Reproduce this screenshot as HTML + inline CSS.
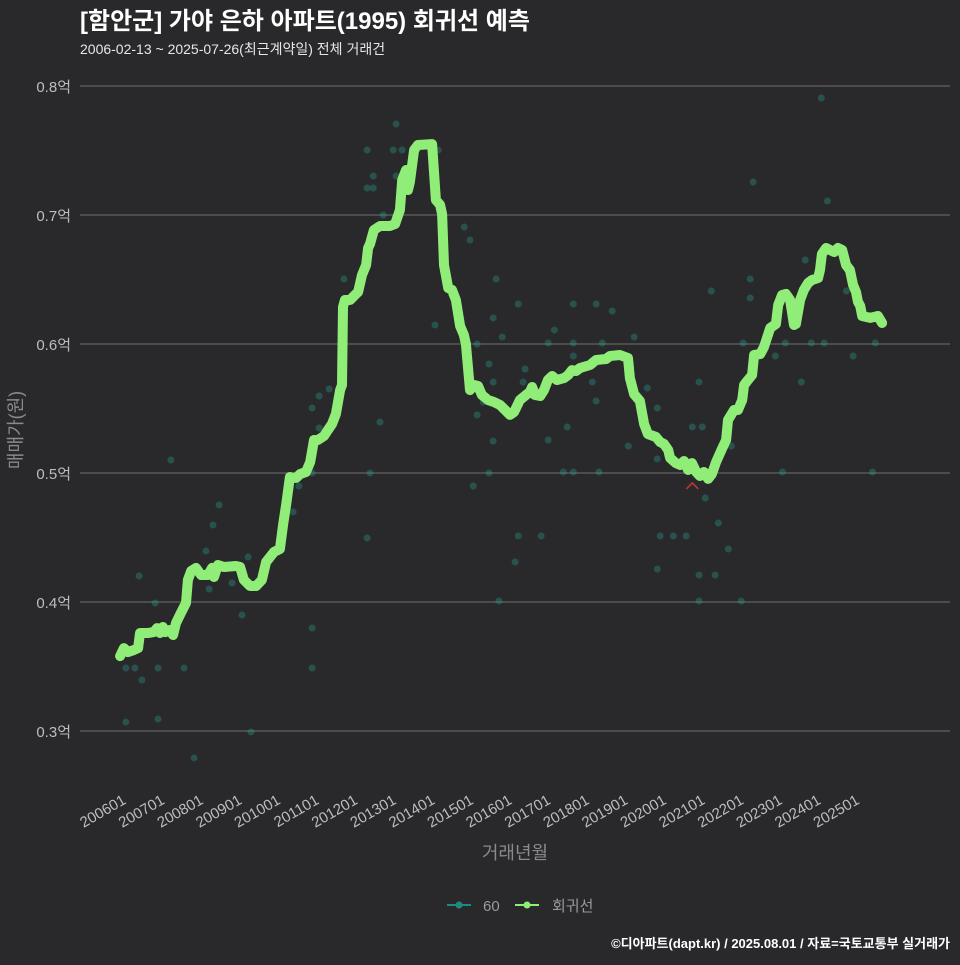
<!DOCTYPE html>
<html><head><meta charset="utf-8"><style>
html,body{margin:0;padding:0;background:#29292b;}
body{width:960px;height:960px;overflow:hidden;font-family:"Liberation Sans","Noto Sans CJK KR",sans-serif;}
svg text{font-family:"Liberation Sans","Noto Sans CJK KR",sans-serif;}
</style></head><body>
<svg id="chart" width="960" height="960" xmlns="http://www.w3.org/2000/svg">
<rect width="960" height="960" fill="#29292b"/>
<text x="80" y="29" fill="#ffffff" font-size="24" font-weight="bold">[함안군] 가야 은하 아파트(1995) 회귀선 예측</text>
<text x="80" y="54" fill="#e6e6e6" font-size="14">2006-02-13 ~ 2025-07-26(최근계약일) 전체 거래건</text>
<g id="grid"></g>
<g id="yticks"></g>
<g id="xticks"></g>
<g id="dots"></g>
<g id="line"></g>
<text transform="translate(22,430) rotate(-90)" text-anchor="middle" fill="#8a8a8a" font-size="18">매매가(원)</text>
<text x="515" y="859" text-anchor="middle" fill="#8a8a8a" font-size="18">거래년월</text>
<g>
<g>
<line x1="447" y1="905" x2="471" y2="905" stroke="#1f8a80" stroke-width="2"/>
<circle cx="459" cy="905" r="3.5" fill="#1f8a80"/>
<text x="483" y="911" fill="#9a9a9a" font-size="15">60</text></g>
<g>
<line x1="515" y1="905" x2="539" y2="905" stroke="#90ee78" stroke-width="2"/>
<circle cx="527" cy="905" r="3.5" fill="#90ee78"/>
<text x="552" y="911" fill="#9a9a9a" font-size="15">회귀선</text></g>
</g>
<text x="950" y="948" text-anchor="end" fill="#ffffff" font-size="13" font-weight="bold">©디아파트(dapt.kr) / 2025.08.01 / 자료=국토교통부 실거래가</text>
</svg>
<script>
const yTicks=[3000,4000,5000,6000,7000,8000];
const yTickLabels=["0.3억","0.4억","0.5억","0.6억","0.7억","0.8억"];
const xTickLabels=["200601","200701","200801","200901","201001","201101","201201","201301","201401","201501","201601","201701","201801","201901","202001","202101","202201","202301","202401","202501"];
// months since 2006-01
const lineMonths=[-0.6,0.6,1.9,3.7,5.0,5.6,8.1,9.9,10.9,11.8,12.7,13.4,14.9,15.9,16.8,18.3,19.9,20.5,21.5,23.0,24.6,26.7,28.0,28.6,29.8,31.7,35.4,36.7,37.9,39.8,41.7,43.5,44.8,47.3,49.1,50.1,51.0,52.2,54.1,55.4,57.2,58.5,59.7,60.9,62.8,64.0,65.3,66.5,67.8,68.4,68.7,69.3,70.9,72.4,73.4,74.6,75.9,76.5,77.1,78.3,80.2,83.3,84.9,86.4,87.1,88.3,88.9,89.5,90.8,92.0,96.4,97.6,98.9,99.5,100.1,101.4,102.6,103.8,105.1,106.3,106.9,108.2,109.4,110.7,111.9,113.8,115.7,117.5,119.1,120.6,121.9,123.7,125.6,126.8,127.5,128.4,130.0,131.2,132.4,133.7,135.2,137.4,138.7,139.9,141.1,142.4,145.5,147.4,150.5,151.7,154.8,157.3,157.9,159.2,161.0,162.3,163.5,166.0,167.3,168.5,169.8,170.4,172.2,173.5,174.7,176.0,177.2,178.5,179.7,180.9,182.2,183.4,184.7,186.5,187.8,188.4,190.3,191.5,192.8,193.4,194.6,195.9,196.5,198.4,199.6,201.5,203.3,204.0,205.2,206.4,207.7,208.9,209.5,210.8,212.0,213.3,214.5,216.4,217.0,217.6,218.9,220.1,221.4,222.6,223.9,225.1,226.3,227.3,228.2,228.8,229.5,230.1,232.6,235.0,236.3];
const linePrices=[3581,3643,3612,3628,3643,3760,3760,3767,3798,3760,3806,3767,3783,3744,3837,3915,3992,4171,4240,4264,4209,4209,4264,4194,4287,4271,4279,4271,4171,4124,4124,4171,4310,4388,4411,4605,4752,4969,4961,4992,5008,5085,5256,5256,5287,5333,5380,5457,5643,5682,6287,6341,6341,6380,6403,6535,6612,6744,6775,6884,6915,6915,6930,7039,7271,7349,7194,7256,7504,7543,7550,7116,7078,7008,6612,6434,6419,6341,6140,6070,6000,5643,5682,5674,5605,5566,5550,5527,5488,5450,5473,5566,5605,5628,5667,5605,5597,5643,5721,5752,5721,5736,5760,5798,5791,5814,5837,5876,5884,5907,5915,5891,5736,5612,5558,5380,5302,5279,5240,5225,5178,5116,5077,5062,5093,5023,5077,5008,4977,5008,4954,4992,5085,5186,5256,5411,5488,5488,5566,5682,5721,5760,5915,5922,5977,6124,6155,6302,6380,6388,6341,6147,6155,6341,6419,6473,6496,6512,6574,6698,6744,6729,6713,6744,6729,6612,6574,6457,6403,6326,6295,6217,6202,6217,6163];
const dealMonths=[85.2,76.2,84.3,87.1,98.3,78.1,85.2,76.2,78.1,81.2,106.4,108.2,69.0,116.3,97.3,115.4,110.4,114.1,61.3,59.1,64.4,112.3,110.4,80.2,61.3,115.4,114.1,77.1,59.1,55.0,109.2,53.2,15.2,30.2,28.3,76.2,26.1,39.2,27.1,34.2,5.3,10.3,37.3,59.1,1.2,4.0,11.2,19.3,59.1,6.2,1.2,11.2,40.1,22.4,217.4,196.2,219.3,123.2,140.3,147.4,152.4,183.2,195.3,195.3,212.4,134.4,118.2,159.2,132.5,140.3,149.3,193.1,206.2,214.3,218.3,234.2,225.2,140.3,203.1,227.3,125.3,115.4,124.7,146.2,179.4,211.2,163.3,147.4,166.4,138.4,177.3,180.4,132.5,157.4,189.4,166.4,137.2,140.3,148.3,205.3,233.3,181.3,185.4,123.2,130.3,167.3,171.4,175.4,188.5,122.2,166.4,179.4,184.4,117.2,179.4,192.5];
const dealPrices=[7705,7504,7504,7504,7504,7302,7302,7209,7209,7000,6907,6806,6504,6504,6147,6202,6000,5845,5597,5504,5651,5550,5450,5395,5349,5248,5000,5000,5000,4899,4899,4698,5101,4752,4597,4496,4395,4349,4101,4147,4202,3992,3899,3798,3488,3488,3488,3488,3488,3395,3070,3093,2992,2791,7907,7256,7109,6310,6310,6310,6256,6411,6504,6357,6651,6109,6054,6054,6008,6008,6008,6008,6008,6008,6008,6008,6411,5907,5907,5907,5806,5705,5705,5705,5705,5705,5659,5558,5504,5357,5357,5357,5256,5209,5209,5109,5008,5008,5008,5008,5008,4806,4612,4512,4512,4512,4512,4512,4411,4310,4256,4209,4209,4008,4008,4008];
const minMonth=177.3, minPrice=4915;

const NS="http://www.w3.org/2000/svg";
function X(m){return 122+m*(38.6/12);}
function Y(p){return 86+(8000-p)*(129/1000);}
function mk(tag,attrs,parent){const e=document.createElementNS(NS,tag);for(const k in attrs)e.setAttribute(k,attrs[k]);parent.appendChild(e);return e;}
const grid=document.getElementById('grid'),yt=document.getElementById('yticks'),xt=document.getElementById('xticks');
yTicks.forEach((v,i)=>{
  const l=mk('line',{x1:80,x2:950,y1:Y(v),y2:Y(v),stroke:'#707070','stroke-width':1},grid);
  
  
  const t=mk('text',{x:71,y:Y(v)+6,'text-anchor':'end',fill:'#bdbdbd','font-size':15},yt);
  t.textContent=yTickLabels[i];
  
  
});
xTickLabels.forEach((s,i)=>{
  const x=X(i*12);
  const t=mk('text',{transform:`translate(${x+5},${803}) rotate(-30)`,'text-anchor':'end',fill:'#bdbdbd','font-size':15},xt);
  t.textContent=s;
  
  
});
const dots=document.getElementById('dots');
dealMonths.forEach((m,i)=>{
  const c=mk('circle',{cx:X(m),cy:Y(dealPrices[i]),r:3.5,fill:'#2a9d8f','fill-opacity':0.35},dots);
  
  
});
const lg=document.getElementById('line');
const d=lineMonths.map((m,i)=>(i?'L':'M')+X(m).toFixed(1)+','+Y(linePrices[i]).toFixed(1)).join(' ');
const p=mk('path',{d:d,fill:'none',stroke:'#90ee78','stroke-width':10,'stroke-linejoin':'round','stroke-linecap':'round'},lg);


const mx=X(minMonth),my=Y(minPrice);
const mkr=mk('path',{d:`M${mx-6},${my+5} L${mx},${my-1} L${mx+6},${my+5}`,fill:'none',stroke:'#c0392b','stroke-width':1.5},lg);


</script>
</body></html>
